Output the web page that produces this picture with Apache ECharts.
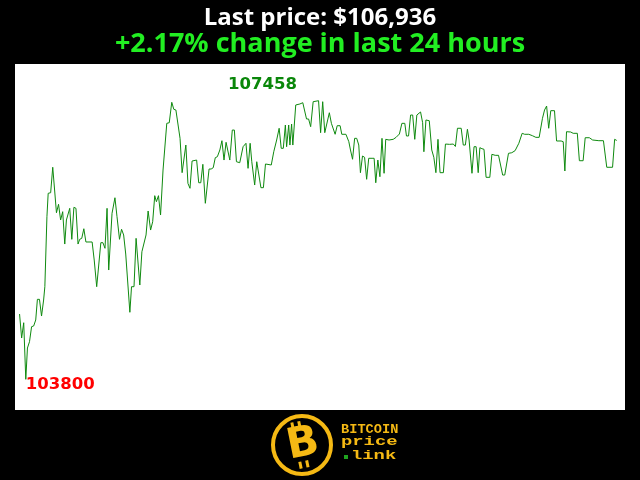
<!DOCTYPE html>
<html>
<head>
<meta charset="utf-8">
<script src="https://cdn.jsdelivr.net/npm/echarts@6/dist/echarts.min.js"></script>
<style>
  html, body { margin: 0; padding: 0; background: #000; }
  #chart { width: 640px; height: 480px; }
</style>
</head>
<body>
<div id="chart"></div>
<script>
  // minutes since start of the 24h window
  const TIMES = [
    0, 5, 10, 15, 19, 24, 29, 34, 39, 43, 48, 53, 58, 61, 66, 69, 75, 80, 84, 89,
    94, 99, 104, 109, 113, 121, 126, 131, 136, 141, 145, 150, 155, 160, 175, 180, 186, 196, 201, 206,
    211, 215, 223, 230, 235, 241, 246, 251, 256, 260, 266, 270, 276, 281, 290, 295, 305, 310, 316, 321,
    326, 330, 335, 340, 346, 355, 361, 367, 372, 377, 387, 392, 396, 401, 406, 411, 416, 420, 427, 432,
    437, 442, 448, 457, 462, 467, 472, 477, 483, 488, 493, 498, 502, 507, 513, 518, 523, 531, 539, 546,
    551, 556, 560, 567, 572, 576, 582, 588, 593, 607, 613, 620, 626, 631, 636, 641, 644, 649, 652, 656,
    659, 666, 676, 683, 687, 692, 697, 702, 708, 721, 726, 731, 736, 740, 747, 752, 756, 761, 766, 773,
    777, 787, 794, 798, 803, 808, 813, 818, 822, 827, 832, 837, 842, 850, 855, 859, 864, 869, 874, 879,
    883, 891, 901, 908, 916, 922, 929, 933, 938, 943, 948, 953, 958, 962, 967, 972, 975, 980, 988, 994,
    999, 1004, 1009, 1014, 1022, 1027, 1037, 1046, 1051, 1056, 1065, 1070, 1075, 1080, 1084, 1091, 1096, 1101, 1106, 1110,
    1115, 1120, 1125, 1134, 1139, 1147, 1155, 1165, 1170, 1179, 1187, 1195, 1204, 1212, 1218, 1228, 1237, 1245, 1253, 1261,
    1266, 1271, 1276, 1281, 1290, 1295, 1306, 1311, 1315, 1319, 1329, 1335, 1345, 1350, 1359, 1364, 1374, 1382, 1397, 1408,
    1411, 1416, 1430, 1435, 1440
  ]
  const PRICES = [
    104657, 104342, 104543, 103800, 104211, 104294, 104491, 104500, 104579, 104850, 104850, 104631, 104841, 105016, 105935, 106242, 106250, 106584, 106584, 105987,
    106098, 105892, 106001, 105576, 105892, 106045, 105638, 106058, 106045, 105576, 105638, 105651, 105777, 105603, 105603, 105366, 105016, 105594, 105594, 105520,
    106045, 105235, 105980, 106184, 105935, 105638, 105770, 105695, 105445, 105445, 104680, 105016, 105016, 105651, 105038, 105475, 105695, 106010, 105760, 105869,
    106211, 106132, 106211, 105957, 106548, 107161, 107169, 107437, 107345, 107336, 106964, 106513, 106492, 106876, 106373, 106308, 106666, 106657, 106679, 106381,
    106381, 106623, 106111, 106561, 106561, 106578, 106710, 106723, 106811, 106933, 106679, 106912, 106912, 106679, 107073, 107073, 106657, 106644, 106854, 106899,
    106570, 106899, 106657, 106351, 106657, 106657, 106316, 106316, 106627, 106614, 106788, 106942, 107096, 106833, 106833, 107139, 106854, 107139, 106876, 107152,
    106876, 107402, 107415, 107432, 107415, 107218, 107218, 107117, 107445, 107458, 107038, 107445, 107038, 107021, 107300, 107161, 107161, 107017, 107130, 107130,
    107017, 107017, 106920, 106811, 106689, 106964, 106964, 106876, 106513, 106732, 106715, 106426, 106702, 106702, 106702, 106381, 106679, 106460, 106964, 106505,
    106951, 106942, 106951, 106977, 107021, 107161, 107161, 106995, 106995, 107270, 107270, 106951, 107270, 107279, 107310, 107169, 106788, 107205, 107195, 106811,
    106715, 106513, 106951, 106513, 106513, 106889, 106885, 106889, 106857, 107096, 107096, 106876, 106876, 107083, 106942, 106505, 106854, 106854, 106513, 106841,
    106828, 106820, 106452, 106452, 106754, 106741, 106741, 106482, 106482, 106767, 106775, 106802, 106899, 107030, 107017, 107017, 106998, 106977, 106977, 107227,
    107336, 107388, 107096, 107327, 107327, 106929, 106929, 106920, 106535, 107051, 107047, 107030, 107030, 106670, 106670, 106972, 106972, 106942, 106933, 106933,
    106907, 106584, 106584, 106951, 106936
  ]
  const LAST_PRICE = '$106,936'
  const CHANGE = '+2.17%'

  const gold = '#f5b914'

  const options = {
    backgroundColor: '#000',
    animation: false,
    title: {
      left: 'center',
      top: 1,
      text: 'Last price: ' + LAST_PRICE,
      subtext: CHANGE + ' change in last 24 hours',
      itemGap: 1,
      textStyle: {
        color: '#fff',
        fontFamily: 'Open Sans',
        fontWeight: 'bold',
        fontSize: 24
      },
      subtextStyle: {
        color: '#22ee22',
        fontFamily: 'Open Sans',
        fontWeight: 'bold',
        fontSize: 27
      }
    },
    grid: {
      left: 15,
      right: 15,
      top: 64,
      bottom: 70,
      show: true,
      backgroundColor: '#fff',
      borderWidth: 0
    },
    xAxis: {
      type: 'value',
      min: -11,
      max: 1460,
      show: false
    },
    yAxis: {
      type: 'value',
      min: 103397,
      max: 107940,
      show: false
    },
    series: [
      {
        type: 'line',
        data: TIMES.map((t, i) => [t, PRICES[i]]),
        showSymbol: false,
        lineStyle: {
          color: '#0f8a0f',
          width: 1
        },
        markPoint: {
          symbol: 'circle',
          symbolSize: 0,
          data: [
            {
              type: 'max',
              label: {
                show: true,
                formatter: (p) => String(p.value),
                color: '#0a870a',
                fontFamily: 'DejaVu Sans',
                fontWeight: 'bold',
                fontSize: 16.5,
                align: 'center',
                verticalAlign: 'middle',
                offset: [-56, -16]
              }
            },
            {
              type: 'min',
              label: {
                show: true,
                formatter: (p) => String(p.value),
                color: '#ff0000',
                fontFamily: 'DejaVu Sans',
                fontWeight: 'bold',
                fontSize: 16.5,
                align: 'left',
                verticalAlign: 'middle',
                offset: [0, 5]
              }
            }
          ]
        }
      }
    ],
    graphic: [
      {
        type: 'circle',
        shape: { cx: 302, cy: 445, r: 29 },
        style: { fill: 'none', stroke: gold, lineWidth: 4 }
      },
      {
        type: 'group',
        x: 302,
        y: 445,
        rotation: 0.2,
        children: [
          {
            type: 'text',
            x: 1,
            y: 0,
            style: {
              text: 'B',
              fill: gold,
              font: 'bold 42px "DejaVu Sans"',
              align: 'center',
              verticalAlign: 'middle'
            }
          },
          { type: 'rect', shape: { x: -7, y: -24, width: 3, height: 6 }, style: { fill: gold } },
          { type: 'rect', shape: { x: 0, y: -24, width: 3, height: 6 }, style: { fill: gold } },
          { type: 'rect', shape: { x: -7, y: 16, width: 3, height: 7 }, style: { fill: gold } },
          { type: 'rect', shape: { x: 0, y: 16, width: 3, height: 7 }, style: { fill: gold } }
        ]
      },
      {
        type: 'text',
        x: 341,
        y: 430,
        scaleX: 1.05,
        style: {
          text: 'BITCOIN',
          fill: gold,
          font: 'bold 13px "Liberation Mono"',
          verticalAlign: 'middle'
        }
      },
      {
        type: 'text',
        x: 341,
        y: 442,
        scaleX: 1.45,
        style: {
          text: 'price',
          fill: gold,
          font: 'bold 13px "Liberation Mono"',
          verticalAlign: 'middle'
        }
      },
      {
        type: 'rect',
        shape: { x: 344, y: 455, width: 4, height: 4 },
        style: { fill: '#1fa31f' }
      },
      {
        type: 'text',
        x: 351,
        y: 456,
        scaleX: 1.45,
        style: {
          text: 'link',
          fill: gold,
          font: 'bold 13px "Liberation Mono"',
          verticalAlign: 'middle'
        }
      }
    ]
  }

  const chart = echarts.init(document.getElementById('chart'))
  chart.setOption(options)
</script>
</body>
</html>
